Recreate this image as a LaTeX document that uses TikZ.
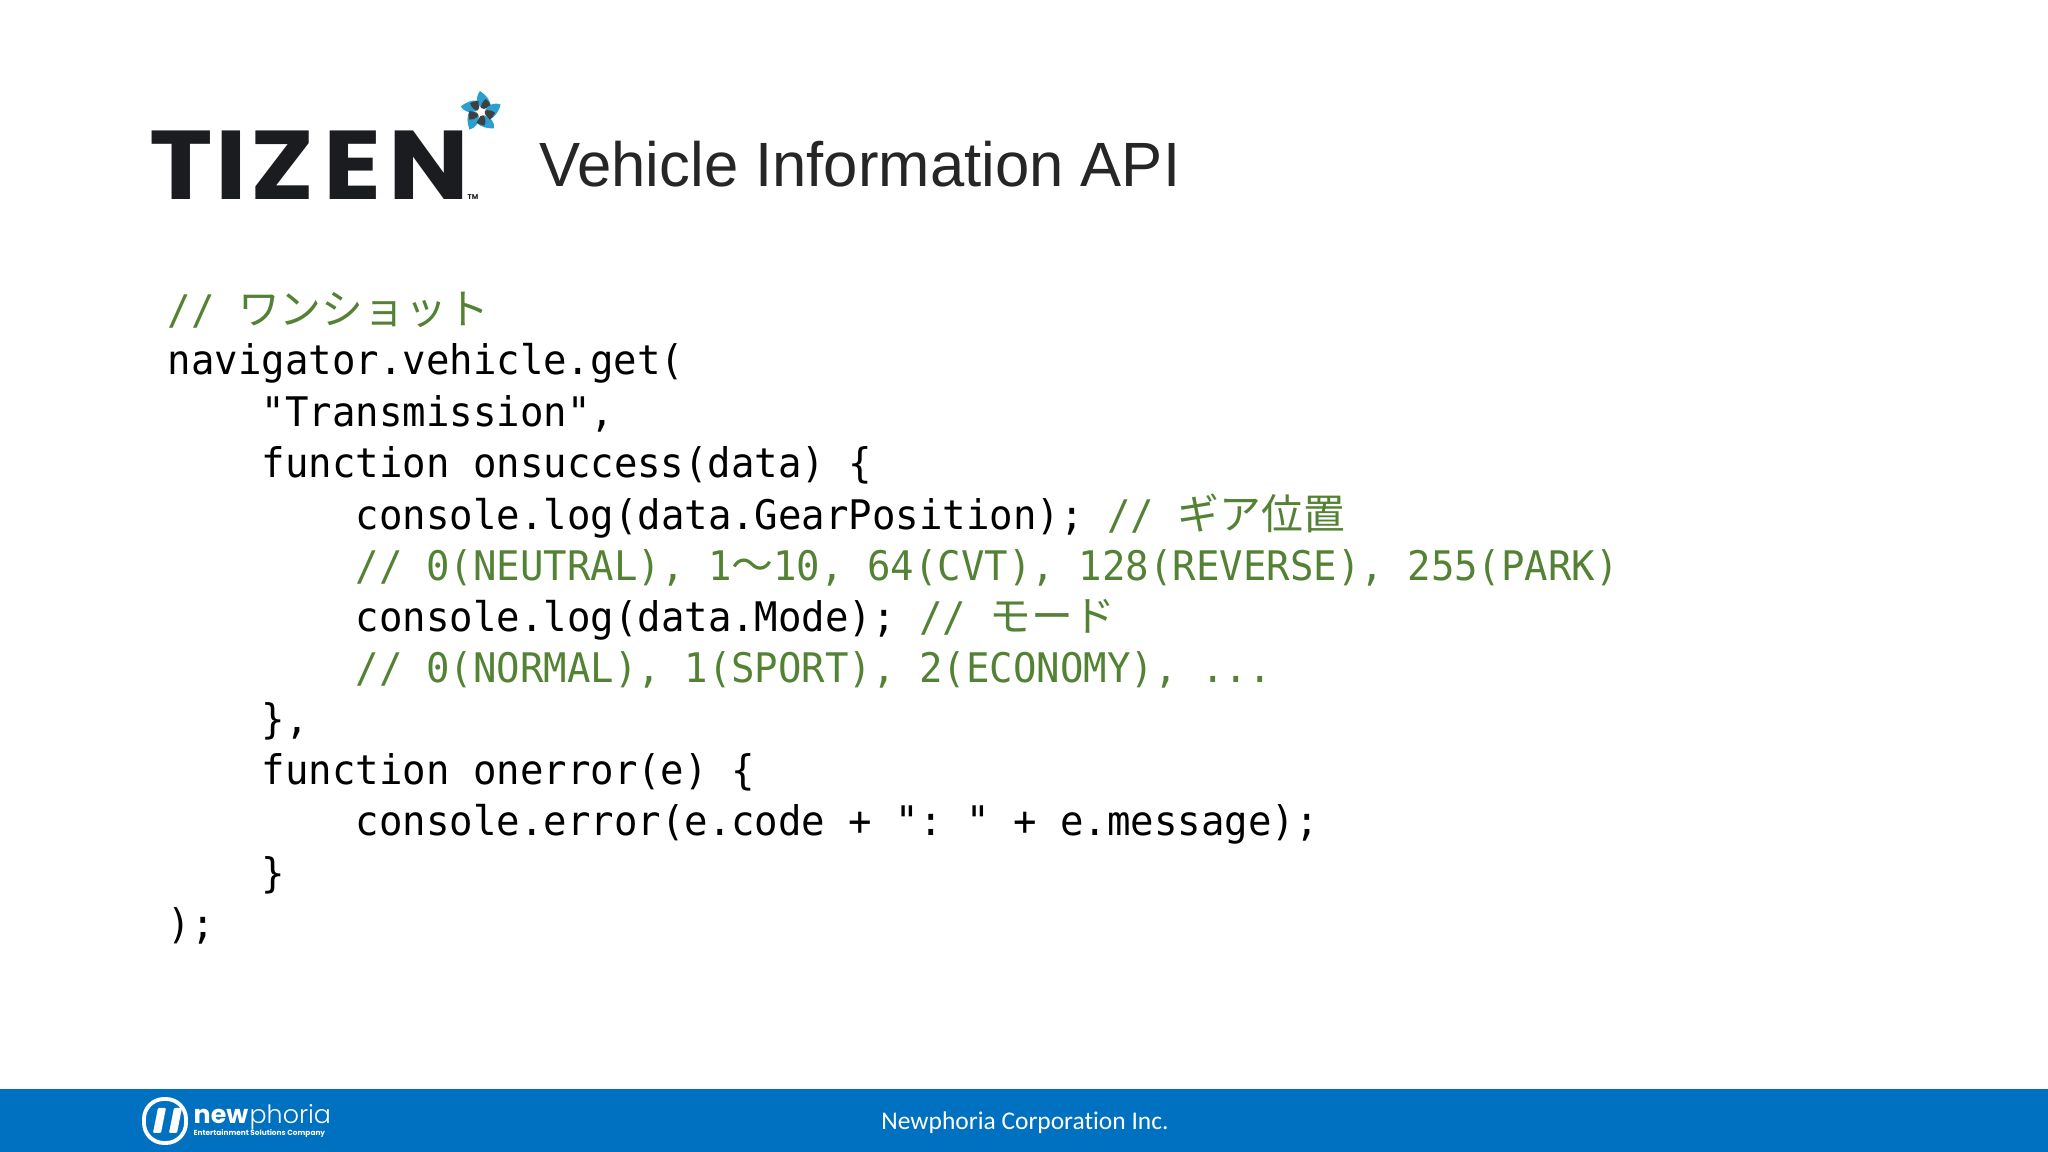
\documentclass[tikz,border=0pt]{standalone}
\usepackage{fontspec}
\newfontfamily\codefont[FakeStretch=0.957]{DejaVu Sans Mono}
\newfontfamily\jpfont{Noto Sans CJK JP}
\newfontfamily\titlefont[FakeStretch=0.985,Ligatures=NoCommon]{Liberation Sans}
\newfontfamily\logofont[FakeStretch=1.1]{Poppins}
\newfontfamily\newlogofont{Poppins}
\newfontfamily\newlightfont{Poppins Light}
\newfontfamily\footfont[Ligatures=NoCommon]{Carlito}
\definecolor{barblue}{HTML}{0070C0}
\definecolor{commentgreen}{HTML}{548235}
\definecolor{logodark}{HTML}{1B1C1F}
\definecolor{windblue}{HTML}{2A9FD0}
\newcommand{\jp}[1]{{\jpfont\fontsize{11.9pt}{11.9pt}\selectfont #1}}
\newcommand{\note}[1]{\textcolor{commentgreen}{#1}}
\tikzset{
  codeline/.style={anchor=base west,inner sep=0pt,font=\codefont\fontsize{11.6pt}{11.6pt}\selectfont\frenchspacing,text=black},
  comment/.style={codeline,text=commentgreen},
  logoletter/.style={anchor=base,inner sep=0pt,font=\logofont\bfseries\fontsize{27.8pt}{27.8pt}\selectfont,text=logodark},
  blade/.style={fill=windblue,draw=none},
  bar/.style={fill=white,draw=none,rounded corners=0.3pt}
}
\begin{document}
\begin{tikzpicture}
  \useasboundingbox (0,0) rectangle (20.48,11.52);
  % footer bar
  \fill[barblue] (0,0) rectangle (20.48,0.63);

  % wordmark
  \foreach \ch/\cx in {T/1.815, I/2.31, Z/2.83, E/3.53, N/4.29}
    \node[logoletter] (logo\ch) at (\cx,9.52) {\ch};
  \node[anchor=base,inner sep=0pt,font=\newlogofont\bfseries\fontsize{2pt}{2pt}\selectfont,text=logodark] (logotm) at (4.73,9.52) {TM};
  % pinwheel
  \foreach \ang in {0,72,...,288} {
    \begin{scope}[shift={(4.81,10.40)},rotate=\ang]
      \fill[blade] (-0.01,0.05) .. controls (-0.05,0.11) and (-0.05,0.16) .. (-0.01,0.21)
        .. controls (0.05,0.17) and (0.09,0.12) .. (0.10,0.06) -- (0.04,0.04) -- cycle;
      \fill[black!75] (0.00,0.04) .. controls (0.00,0.08) and (0.02,0.11) .. (0.05,0.13)
        .. controls (0.08,0.10) and (0.09,0.08) .. (0.10,0.06) -- (0.03,0.03) -- cycle;
    \end{scope}
  }

  \node[anchor=base west,inner sep=0pt,font=\titlefont\fontsize{17.8pt}{17.8pt}\selectfont,text=black!85] (title) at (5.39,9.65) {Vehicle Information API};

  % code
  \node[comment] (c0) at (1.67,8.27) {// \jp{ワンショット}};
  \node[codeline] (c1) at (1.67,7.77) {navigator.vehicle.get(};
  \node[codeline] (c2) at (2.61,7.25) {"Transmission",};
  \node[codeline] (c3) at (2.61,6.74) {function onsuccess(data) \{};
  \node[codeline] (c4) at (3.55,6.22) {console.log(data.GearPosition); \note{// \jp{ギア位置}}};
  \node[comment] (c5) at (3.55,5.71) {// 0(NEUTRAL), 1\jp{〜}10, 64(CVT), 128(REVERSE), 255(PARK)};
  \node[codeline] (c6) at (3.55,5.20) {console.log(data.Mode); \note{// \jp{モード}}};
  \node[comment] (c7) at (3.55,4.69) {// 0(NORMAL), 1(SPORT), 2(ECONOMY), ...};
  \node[codeline] (c8) at (2.61,4.18) {\},};
  \node[codeline] (c9) at (2.61,3.67) {function onerror(e) \{};
  \node[codeline] (c10) at (3.55,3.16) {console.error(e.code + ": " + e.message);};
  \node[codeline] (c11) at (2.61,2.64) {\}};
  \node[codeline] (c12) at (1.67,2.13) {);};

  % footer logo
  \draw[white,line width=1.1pt,rounded corners=0.2cm] (1.44,0.09) rectangle (1.86,0.53);
  \fill[bar] (1.53,0.19) -- (1.61,0.19) -- (1.66,0.44) -- (1.58,0.44) -- cycle;
  \fill[bar] (1.69,0.19) -- (1.77,0.19) -- (1.82,0.44) -- (1.74,0.44) -- cycle;
  \node[anchor=base west,inner sep=0pt,font=\newlogofont\bfseries\fontsize{7.2pt}{7.2pt}\selectfont,text=white] (lognew) at (1.93,0.28) {new};
  \node[anchor=base west,inner sep=0pt,font=\newlightfont\fontsize{7.2pt}{7.2pt}\selectfont,text=white] (logphoria) at (lognew.base east) {phoria};
  \node[anchor=base west,inner sep=0pt,font=\newlogofont\bfseries\fontsize{2.1pt}{2.1pt}\selectfont,text=white] (logsub) at (1.93,0.16) {Entertainment Solutions Company};

  \node[inner sep=0pt,font=\footfont\fontsize{7.25pt}{7.25pt}\selectfont,text=white] (foot) at (10.25,0.295) {Newphoria Corporation Inc.};
\end{tikzpicture}
\end{document}
